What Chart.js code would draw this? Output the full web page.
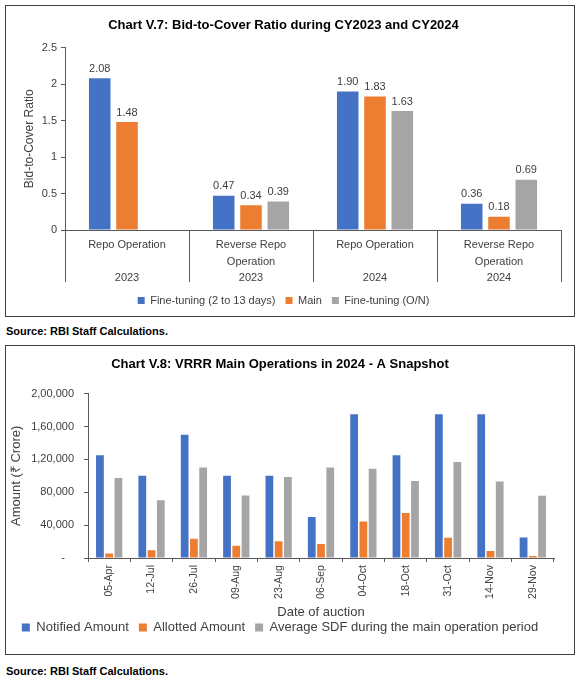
<!DOCTYPE html>
<html>
<head>
<meta charset="utf-8">
<script src="https://cdn.jsdelivr.net/npm/chart.js@4.4.1/dist/chart.umd.min.js"></script>
<style>
  body { margin: 0; background: #fff; font-family: "Liberation Sans", Arial, sans-serif; }
  .box { position: absolute; left: 5px; width: 568px; border: 1px solid #404040; }
  .src { position: absolute; left: 6px; font-size: 11px; font-weight: bold; color: #000; line-height: 13px; }
</style>
</head>
<body>
<div class="box" style="top:5px;height:310px"><canvas id="btc" width="568" height="310"></canvas></div>
<div class="src" style="top:325px">Source: RBI Staff Calculations.</div>
<div class="box" style="top:345px;height:308px"><canvas id="vrrr" width="568" height="308"></canvas></div>
<div class="src" style="top:665px">Source: RBI Staff Calculations.</div>
<script>
// Chart V.7 data
const operations = [['Repo Operation', ''], ['Reverse Repo', 'Operation'], ['Repo Operation', ''], ['Reverse Repo', 'Operation']];
const years = ['2023', '2023', '2024', '2024'];
const fineTuning = [2.08, 0.47, 1.90, 0.36];
const mainOp = [1.48, 0.34, 1.83, 0.18];
const fineTuningON = [null, 0.39, 1.63, 0.69];

// Chart V.8 data
const auctionDates = ['05-Apr', '12-Jul', '26-Jul', '09-Aug', '23-Aug', '06-Sep', '04-Oct', '18-Oct', '31-Oct', '14-Nov', '29-Nov'];
const notifiedAmount = [125000, 100000, 150000, 100000, 100000, 50000, 175000, 125000, 175000, 175000, 25000];
const allottedAmount = [5500, 9500, 23500, 15000, 20500, 17000, 44300, 54800, 24700, 8500, 2600];
const avgSdf = [97500, 70200, 110200, 76200, 98700, 110200, 108700, 93600, 116700, 93200, 75800];

const BLUE = '#4472C4', ORANGE = '#ED7D31', GREY = '#A5A5A5';
const AXIS = '#595959';

Chart.defaults.font.family = '"Liberation Sans", Arial, sans-serif';
Chart.defaults.color = '#404040';

function indian(v) {
    const s = String(Math.round(v));
    if (s.length <= 3) return s;
    const rest = s.slice(0, -3).replace(/\B(?=(\d{2})+(?!\d))/g, ',');
    return rest + ',' + s.slice(-3);
}

const valueLabels = {
    id: 'valueLabels',
    afterDatasetsDraw(chart) {
        const ctx = chart.ctx;
        ctx.save();
        ctx.font = '11px "Liberation Sans", Arial, sans-serif';
        ctx.fillStyle = '#404040';
        ctx.textAlign = 'center';
        ctx.textBaseline = 'bottom';
        chart.data.datasets.forEach((ds, i) => {
            chart.getDatasetMeta(i).data.forEach((bar, j) => {
                const v = ds.data[j];
                if (v == null) return;
                ctx.fillText(v.toFixed(2), bar.x, bar.y - 4);
            });
        });
        ctx.restore();
    }
};

new Chart(document.getElementById('btc'), {
    type: 'bar',
    data: {
        labels: operations.map((op, i) => [op[0], op[1], years[i]]),
        datasets: [
            { label: 'Fine-tuning (2 to 13 days)', data: fineTuning, backgroundColor: BLUE },
            { label: 'Main', data: mainOp, backgroundColor: ORANGE },
            { label: 'Fine-tuning (O/N)', data: fineTuningON, backgroundColor: GREY }
        ]
    },
    plugins: [valueLabels],
    options: {
        responsive: false,
        animation: false,
        categoryPercentage: 0.66,
        barPercentage: 0.79,
        layout: { padding: { left: 0, right: 13, top: 0, bottom: 0 } },
        plugins: {
            title: {
                display: true,
                text: 'Chart V.7: Bid-to-Cover Ratio during CY2023 and CY2024',
                color: '#000',
                font: { size: 13, weight: 'bold' },
                padding: { top: 12, bottom: 14 }
            },
            legend: {
                position: 'bottom',
                labels: { boxWidth: 7, boxHeight: 7, padding: 10, font: { size: 11 }, color: '#404040' }
            },
            tooltip: { enabled: false }
        },
        scales: {
            x: {
                afterFit: s => { s.height = 55; },
                grid: { offset: true, drawOnChartArea: false, tickLength: 52, color: AXIS },
                border: { color: AXIS },
                ticks: { padding: -45, font: { size: 11, lineHeight: 1.5 }, color: '#404040', maxRotation: 0, autoSkip: false }
            },
            y: {
                min: 0,
                max: 2.5,
                afterFit: s => { s.width = 59; },
                grid: { drawOnChartArea: false, tickLength: 4, color: AXIS },
                border: { color: AXIS },
                ticks: { stepSize: 0.5, padding: 4, font: { size: 11 }, color: '#404040', callback: v => String(v) },
                title: { display: true, text: 'Bid-to-Cover Ratio', font: { size: 12 }, color: '#404040', padding: { top: 16, bottom: 0 } }
            }
        }
    }
});

new Chart(document.getElementById('vrrr'), {
    type: 'bar',
    data: {
        labels: auctionDates,
        datasets: [
            { label: 'Notified Amount', data: notifiedAmount, backgroundColor: BLUE },
            { label: 'Allotted Amount', data: allottedAmount, backgroundColor: ORANGE },
            { label: 'Average SDF during the main operation period', data: avgSdf, backgroundColor: GREY }
        ]
    },
    options: {
        responsive: false,
        animation: false,
        categoryPercentage: 0.655,
        barPercentage: 0.84,
        layout: { padding: { left: 0, right: 20, top: 0, bottom: 10 } },
        plugins: {
            title: {
                display: true,
                text: 'Chart V.8: VRRR Main Operations in 2024 - A Snapshot',
                color: '#000',
                font: { size: 13, weight: 'bold' },
                padding: { top: 11, bottom: 21 }
            },
            legend: {
                position: 'bottom',
                labels: { boxWidth: 8, boxHeight: 8, padding: 10, font: { size: 13 }, color: '#404040' }
            },
            tooltip: { enabled: false }
        },
        scales: {
            x: {
                grid: { offset: true, drawOnChartArea: false, tickLength: 4, color: AXIS },
                border: { color: AXIS },
                ticks: { padding: 3, font: { size: 10.5 }, color: '#404040', minRotation: 90, maxRotation: 90, autoSkip: false },
                title: { display: true, text: 'Date of auction', font: { size: 13 }, color: '#404040', padding: { top: 3, bottom: -9.5 } }
            },
            y: {
                min: 0,
                max: 200000,
                afterFit: s => { s.width = 82; },
                grid: { drawOnChartArea: false, tickLength: 4, color: AXIS },
                border: { color: AXIS },
                ticks: {
                    stepSize: 40000,
                    padding: 10,
                    font: { size: 11 },
                    color: '#404040',
                    callback: v => v === 0 ? '-   ' : indian(v)
                },
                title: { display: true, text: 'Amount (₹ Crore)', font: { size: 13 }, color: '#404040', padding: { top: 3, bottom: 0 } }
            }
        }
    }
});
</script>
</body>
</html>
